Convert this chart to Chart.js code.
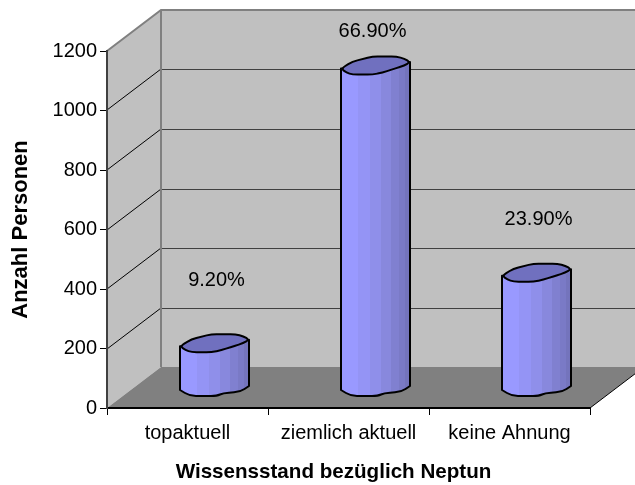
<!DOCTYPE html>
<html>
<head>
<meta charset="utf-8">
<style>
  html, body { margin: 0; padding: 0; background: #ffffff; }
  #wrap { width: 635px; height: 485px; }
</style>
<script src="https://cdn.jsdelivr.net/npm/chart.js@4"></script>
</head>
<body>
<div id="wrap"><canvas id="chart" width="635" height="485"></canvas></div>
<script>
const categories = ['topaktuell', 'ziemlich aktuell', 'keine Ahnung'];
const personCounts = [149, 1082, 386];
const shareLabels = ['9.20%', '66.90%', '23.90%'];
const yAxisTicks = [0, 200, 400, 600, 800, 1000, 1200];
const xAxisTitle = 'Wissensstand bezüglich Neptun';
const yAxisTitle = 'Anzahl Personen';

// Oblique projection: how far the back wall sits from the front plane.
const DEPTH = { x: 54, y: -41 };
const FONT = '"Liberation Sans", Arial, sans-serif';

// Faceted cap and base outlines, in pixels from the cylinder's axis.
const CAP_OUTLINE = [[-34.5,3],[-23,-4],[-3,-9],[21,-9],[29,-7],[34.5,-3.5],[29,0],[16,4],[7,7],[-3,9],[-23,9],[-29,7]];
const BASE_FRONT = [[34.5,-1],[25.5,5],[8.5,6],[2.5,9],[-24.5,9],[-34.5,3]];
const SHADE_BANDS = [
  [0.00, '#9999ff'], [0.24, '#9494f5'], [0.42, '#8f8fea'], [0.58, '#8888dd'],
  [0.72, '#8080d0'], [0.84, '#7a7ac6'], [0.93, '#7474bc']
];

// Walks towards a neighbouring vertex, at most halfway along the segment.
function towards(p, q, reach) {
  const len = Math.hypot(q[0] - p[0], q[1] - p[1]) || 1;
  const t = Math.min(reach, len / 2) / len;
  return [p[0] + (q[0] - p[0]) * t, p[1] + (q[1] - p[1]) * t];
}

// Traces a closed outline with softened corners.
function softLoop(ctx, points, reach) {
  const n = points.length;
  points.forEach((p, i) => {
    const a = towards(p, points[(i + n - 1) % n], reach);
    const b = towards(p, points[(i + 1) % n], reach);
    if (i === 0) ctx.moveTo(a[0], a[1]);
    else ctx.lineTo(a[0], a[1]);
    ctx.quadraticCurveTo(p[0], p[1], b[0], b[1]);
  });
  ctx.closePath();
}

// Continues an open path through points, softening only the inner corners.
function softRun(ctx, points, reach) {
  ctx.lineTo(points[0][0], points[0][1]);
  for (let i = 1; i < points.length - 1; i++) {
    const p = points[i];
    const a = towards(p, points[i - 1], reach);
    const b = towards(p, points[i + 1], reach);
    ctx.lineTo(a[0], a[1]);
    ctx.quadraticCurveTo(p[0], p[1], b[0], b[1]);
  }
  const end = points[points.length - 1];
  ctx.lineTo(end[0], end[1]);
}

class CylinderElement extends Chart.BarElement {
  draw(ctx) {
    const { x, y, base, width } = this.getProps(['x', 'y', 'base', 'width'], true);
    const cx = x + DEPTH.x / 2;
    const topY = y + DEPTH.y / 2;
    const botY = base + DEPTH.y / 2;
    const left = cx - width / 2;
    const right = cx + width / 2;

    ctx.save();
    ctx.lineJoin = 'round';
    ctx.strokeStyle = '#000000';
    ctx.lineWidth = 2;

    // Side wall: down the left edge, along the faceted base, up the right edge.
    const gradient = ctx.createLinearGradient(left, 0, right, 0);
    SHADE_BANDS.forEach(([stop, colour], i) => {
      gradient.addColorStop(stop, colour);
      const next = SHADE_BANDS[i + 1];
      gradient.addColorStop(next ? next[0] : 1, colour);
    });
    const basePoints = BASE_FRONT.slice().reverse().map(([dx, dy]) => [cx + dx, botY + dy]);
    ctx.beginPath();
    ctx.moveTo(left, topY + CAP_OUTLINE[0][1]);
    softRun(ctx, basePoints, 6);
    ctx.lineTo(right, topY + CAP_OUTLINE[5][1]);
    ctx.closePath();
    ctx.fillStyle = gradient;
    ctx.fill();
    ctx.stroke();

    // Top cap.
    ctx.beginPath();
    softLoop(ctx, CAP_OUTLINE.map(([dx, dy]) => [cx + dx, topY + dy]), 5);
    ctx.fillStyle = '#7070bf';
    ctx.fill();
    ctx.stroke();
    ctx.restore();
  }
}
CylinderElement.id = 'cylinder';
CylinderElement.defaults = Chart.BarElement.defaults;
CylinderElement.defaultRoutes = Chart.BarElement.defaultRoutes;

class CylinderController extends Chart.BarController {}
CylinderController.id = 'cylinder';
CylinderController.defaults = Object.assign({}, Chart.BarController.defaults, { dataElementType: 'cylinder' });
CylinderController.overrides = Chart.BarController.overrides;

Chart.register(CylinderElement, CylinderController);

// Side wall, back wall, floor and their gridlines, laid out from the scales.
const roomPlugin = {
  id: 'room',
  beforeDraw(chart) {
    const { ctx, chartArea: a, scales } = chart;
    const bx = a.left + DEPTH.x;
    const rx = a.right + DEPTH.x;
    const ty = a.top + DEPTH.y;
    const by = a.bottom + DEPTH.y;
    ctx.save();

    ctx.fillStyle = '#c0c0c0';
    ctx.fillRect(bx, ty, rx - bx, by - ty);
    ctx.beginPath();
    ctx.moveTo(a.left, a.top);
    ctx.lineTo(bx, ty);
    ctx.lineTo(bx, by);
    ctx.lineTo(a.left, a.bottom);
    ctx.closePath();
    ctx.fill();

    ctx.fillStyle = '#808080';
    ctx.beginPath();
    ctx.moveTo(a.left, a.bottom);
    ctx.lineTo(bx, by);
    ctx.lineTo(rx, by);
    ctx.lineTo(a.right, a.bottom);
    ctx.closePath();
    ctx.fill();

    ctx.strokeStyle = '#000000';
    ctx.lineWidth = 1;
    ctx.beginPath();
    ctx.moveTo(a.right, a.bottom);
    ctx.lineTo(rx, by);
    ctx.stroke();

    // Gridlines run across the side wall and along the back wall.
    yAxisTicks.filter(v => v > 0 && v < 1200).forEach(v => {
      const py = Math.round(scales.y.getPixelForValue(v));
      ctx.strokeStyle = '#000000';
      ctx.beginPath();
      ctx.moveTo(a.left, py);
      ctx.lineTo(bx, py + DEPTH.y);
      ctx.stroke();
      ctx.strokeStyle = '#404040';
      ctx.beginPath();
      ctx.moveTo(bx, py + DEPTH.y + 0.5);
      ctx.lineTo(rx, py + DEPTH.y + 0.5);
      ctx.stroke();
    });

    // Grey frame of the walls.
    ctx.strokeStyle = '#808080';
    ctx.lineWidth = 2;
    ctx.beginPath();
    ctx.moveTo(a.left, a.top);
    ctx.lineTo(bx, ty);
    ctx.lineTo(rx, ty);
    ctx.moveTo(bx, ty);
    ctx.lineTo(bx, by);
    ctx.stroke();
    ctx.restore();
  }
};

// Percentage captions floating above each cylinder.
const shareLabelPlugin = {
  id: 'shareLabels',
  afterDatasetsDraw(chart, args, opts) {
    const { ctx } = chart;
    const bars = chart.getDatasetMeta(0).data;
    ctx.save();
    ctx.font = '20px ' + FONT;
    ctx.fillStyle = '#000000';
    ctx.textAlign = 'center';
    ctx.textBaseline = 'middle';
    bars.forEach((bar, i) => {
      ctx.fillText(shareLabels[i], bar.x + DEPTH.x / 2 + opts.shiftX[i], bar.y + DEPTH.y / 2 - opts.lift[i]);
    });
    ctx.restore();
  }
};

// The category axis title sits left of the plot's centre.
const X_TITLE_SHIFT = -15;
function shiftXTitle(scale) {
  if (scale.drawTitle.shifted) return;
  const original = scale.drawTitle;
  const shifted = function () {
    const ctx = this.ctx;
    ctx.save();
    ctx.translate(X_TITLE_SHIFT, 0);
    original.call(this);
    ctx.restore();
  };
  shifted.shifted = true;
  scale.drawTitle = shifted;
}

new Chart(document.getElementById('chart'), {
  type: 'cylinder',
  data: {
    labels: categories,
    datasets: [{
      label: yAxisTitle,
      data: personCounts,
      categoryPercentage: 1,
      barPercentage: 69 / 161
    }]
  },
  plugins: [roomPlugin, shareLabelPlugin],
  options: {
    responsive: false,
    animation: false,
    layout: { padding: { top: 51, right: 45, bottom: 0, left: 0 } },
    plugins: {
      legend: { display: false },
      tooltip: { enabled: false },
      shareLabels: { lift: [63, 34, 53], shiftX: [2, -3, 2] }
    },
    scales: {
      x: {
        type: 'category',
        afterFit(scale) { scale.height = 77; shiftXTitle(scale); },
        grid: { offset: true, drawOnChartArea: false, drawTicks: true, tickLength: 7, color: '#000000', tickColor: '#000000' },
        border: { display: true, color: '#000000', width: 2 },
        ticks: { color: '#000000', font: { family: FONT, size: 20 }, padding: 6, maxRotation: 0, autoSkip: false },
        title: { display: true, text: xAxisTitle, color: '#000000', font: { family: FONT, size: 20.6, weight: 'bold' }, padding: { top: 9, bottom: 0 } }
      },
      y: {
        type: 'linear',
        min: 0,
        max: 1200,
        afterFit(scale) { scale.width = 107; },
        afterBuildTicks(scale) { scale.ticks = yAxisTicks.map(value => ({ value })); },
        grid: { drawOnChartArea: false, drawTicks: true, tickLength: 7, color: '#404040', tickColor: '#000000' },
        border: { display: true, color: '#404040', width: 2 },
        ticks: { color: '#000000', font: { family: FONT, size: 20 }, padding: 3, callback: value => String(value) },
        title: { display: true, text: yAxisTitle, color: '#000000', font: { family: FONT, size: 22, weight: 'bold' }, padding: { top: 8, bottom: 0 } }
      }
    }
  }
});
</script>
</body>
</html>
